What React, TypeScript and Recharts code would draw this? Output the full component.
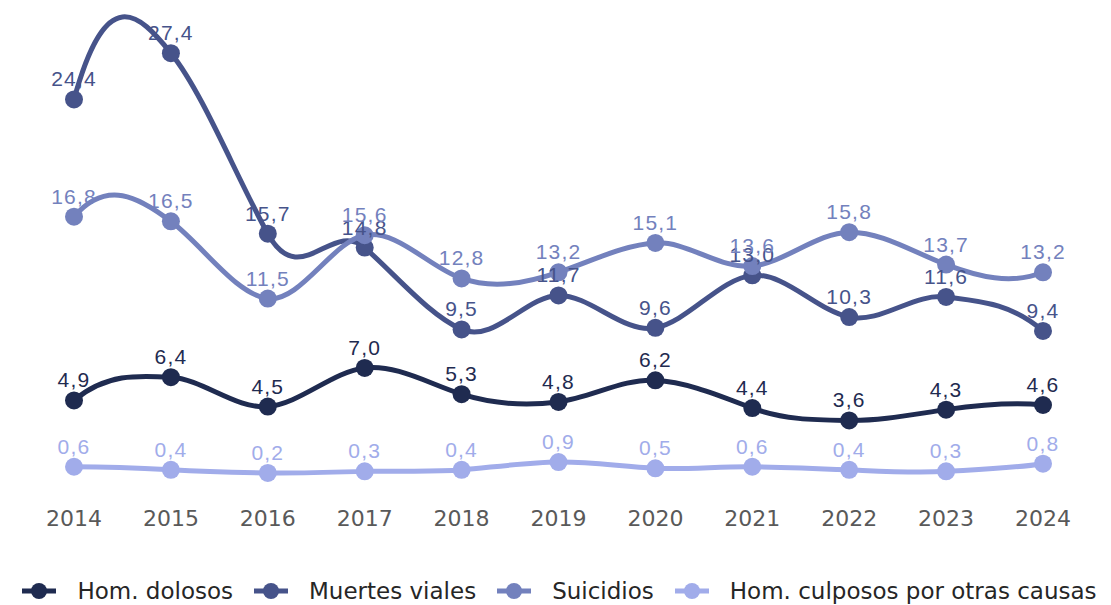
import { LineChart, Line, XAxis, YAxis, Legend, LabelList } from 'recharts';

const years = ['2014', '2015', '2016', '2017', '2018', '2019', '2020', '2021', '2022', '2023', '2024'];
const homDolosos = [4.9, 6.4, 4.5, 7.0, 5.3, 4.8, 6.2, 4.4, 3.6, 4.3, 4.6];
const muertesViales = [24.4, 27.4, 15.7, 14.8, 9.5, 11.7, 9.6, 13.0, 10.3, 11.6, 9.4];
const suicidios = [16.8, 16.5, 11.5, 15.6, 12.8, 13.2, 15.1, 13.6, 15.8, 13.7, 13.2];
const homCulposos = [0.6, 0.4, 0.2, 0.3, 0.4, 0.9, 0.5, 0.6, 0.4, 0.3, 0.8];

const series = [
  { key: 'homDolosos', name: 'Hom. dolosos', color: '#1f2b50' },
  { key: 'muertesViales', name: 'Muertes viales', color: '#46538a' },
  { key: 'suicidios', name: 'Suicidios', color: '#7381bd' },
  { key: 'homCulposos', name: 'Hom. culposos por otras causas', color: '#a1acea' },
];

const data = years.map((year, i) => ({
  year,
  homDolosos: homDolosos[i],
  muertesViales: muertesViales[i],
  suicidios: suicidios[i],
  homCulposos: homCulposos[i],
}));

const fmt = (v: any) => Number(v).toFixed(1).replace('.', ',');

// hermite spline with loose tangents, overshoots like the original smoothing
const MID = 0.3;
const END = 0.52;
function smoothCurve(context: any) {
  let xs: number[] = [];
  let ys: number[] = [];
  return {
    areaStart() {},
    areaEnd() {},
    lineStart() {
      xs = [];
      ys = [];
    },
    point(x: number, y: number) {
      xs.push(+x);
      ys.push(+y);
    },
    lineEnd() {
      const n = xs.length;
      if (!n) return;
      context.moveTo(xs[0], ys[0]);
      if (n < 3) {
        if (n === 2) context.lineTo(xs[1], ys[1]);
        return;
      }
      const tx: number[] = [];
      const ty: number[] = [];
      for (let i = 1; i < n - 1; i++) {
        tx[i] = (xs[i + 1] - xs[i - 1]) / 6;
        ty[i] = MID * (ys[i + 1] - ys[i - 1]);
      }
      tx[0] = (xs[1] - xs[0]) / 3;
      ty[0] = END * (2 * ys[1] - ys[0] - ys[2]);
      tx[n - 1] = (xs[n - 1] - xs[n - 2]) / 3;
      ty[n - 1] = -END * (2 * ys[n - 2] - ys[n - 1] - ys[n - 3]);
      for (let i = 0; i < n - 1; i++) {
        context.bezierCurveTo(
          xs[i] + tx[i], ys[i] + ty[i],
          xs[i + 1] - tx[i + 1], ys[i + 1] - ty[i + 1],
          xs[i + 1], ys[i + 1]
        );
      }
    },
  };
}

function LegendContent() {
  return (
    <div style={{ display: 'flex', justifyContent: 'center', alignItems: 'center', height: 28, whiteSpace: 'nowrap' }}>
      {series.map((s, i) => (
        <div key={s.key} style={{ display: 'flex', alignItems: 'center', marginLeft: i === 0 ? 0 : 21 }}>
          <svg width={34} height={20} style={{ marginRight: 21 }}>
            <line x1={0} y1={10} x2={34} y2={10} stroke={s.color} strokeWidth={5} />
            <circle cx={17} cy={10} r={8} fill={s.color} />
          </svg>
          <span style={{ fontFamily: 'DejaVu Sans', fontSize: 23, color: '#262626' }}>{s.name}</span>
        </div>
      ))}
    </div>
  );
}

export default function App() {
  return (
    <LineChart width={1103} height={597} data={data} margin={{ top: 5, right: 68, left: 66, bottom: 0 }}>
      <XAxis
        dataKey="year"
        axisLine={false}
        tickLine={false}
        tickSize={0}
        tickMargin={34}
        height={101}
        interval={0}
        tick={{ fill: '#595959', fontSize: 22, fontFamily: 'DejaVu Sans' }}
      />
      <YAxis hide domain={[0, 30]} />
      <Legend verticalAlign="bottom" content={<LegendContent />} wrapperStyle={{ left: 0, width: 1103 }} />
      {series.map((s) => (
        <Line
          key={s.key}
          dataKey={s.key}
          name={s.name}
          type={smoothCurve as any}
          stroke={s.color}
          strokeWidth={5}
          dot={{ r: 9, fill: s.color, stroke: 'none' }}
          activeDot={false}
          isAnimationActive={false}
        >
          <LabelList
            dataKey={s.key}
            position="top"
            offset={13}
            formatter={fmt}
            fill={s.color}
            style={{ fontSize: 21, fontFamily: 'Liberation Sans, Arial', letterSpacing: 1.2 }}
          />
        </Line>
      ))}
    </LineChart>
  );
}
